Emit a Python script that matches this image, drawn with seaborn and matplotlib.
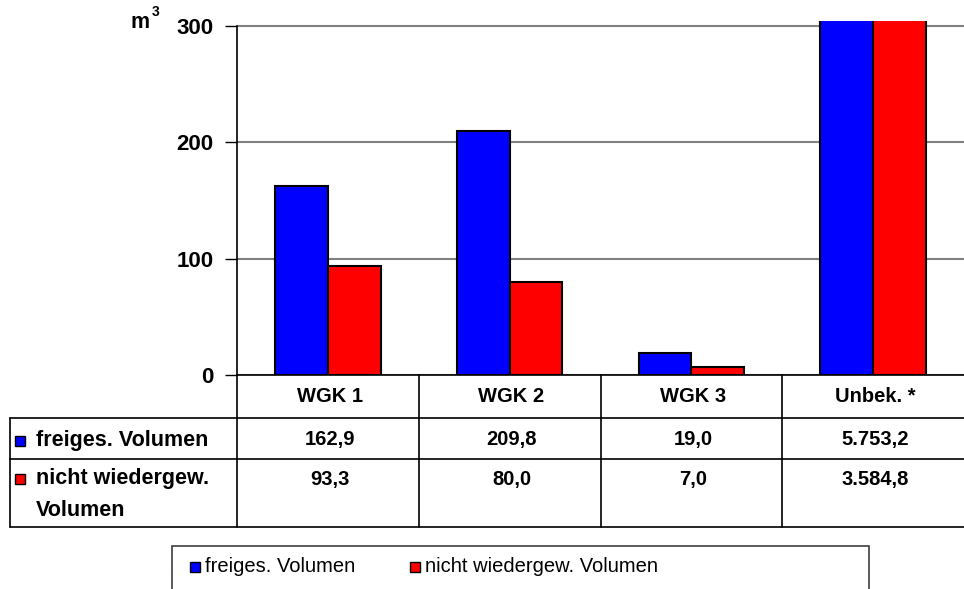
import matplotlib
matplotlib.use("Agg")
import matplotlib.pyplot as plt
import matplotlib.transforms as mtransforms
from matplotlib.patches import Rectangle
from matplotlib.lines import Line2D
import seaborn as sns
import pandas as pd

categories = ["WGK 1", "WGK 2", "WGK 3", "Unbek. *"]
series_names = ["freiges. Volumen", "nicht wiedergew. Volumen"]
row_labels = ["freiges. Volumen", "nicht wiedergew.\nVolumen"]
freiges = [162.9, 209.8, 19.0, 5753.2]
nicht = [93.3, 80.0, 7.0, 3584.8]
yticks = [0, 100, 200, 300]
colors = ["#0000FF", "#FF0000"]

df = pd.DataFrame({
    "cat": categories * 2,
    "series": [series_names[0]] * len(categories) + [series_names[1]] * len(categories),
    "value": freiges + nicht,
})

sns.set_theme(style="white")
plt.rcParams["font.family"] = ["Liberation Sans", "DejaVu Sans"]
plt.rcParams["text.color"] = "black"
plt.rcParams["ytick.labelcolor"] = "black"
plt.rcParams["ytick.color"] = "black"

W, H = 964, 589
fig = plt.figure(figsize=(W / 100, H / 100), dpi=100)


def fx(px):
    return px / W


def fy(py):
    return 1 - py / H


ax = fig.add_axes([fx(237), fy(375), fx(964) - fx(237), fy(21.4) - fy(375)])
sns.barplot(data=df, x="cat", y="value", hue="series", palette=colors,
            edgecolor="black", linewidth=1.5, width=0.58, saturation=1,
            errorbar=None, legend=False, ax=ax)
ax.set_ylim(0, 304)
ax.set_xlim(-0.5, len(categories) - 0.5)
ax.set_yticks(yticks)
ax.set_yticklabels([str(t) for t in yticks], fontsize=16, fontweight="bold", color="black")
ax.set_xticks([])
ax.set_xlabel("")
ax.set_ylabel("")
ax.yaxis.grid(True, color="#808080", linewidth=1.5)
ax.set_axisbelow(True)
for s in ["top", "right"]:
    ax.spines[s].set_visible(False)
ax.spines["left"].set_color("black")
ax.spines["left"].set_linewidth(1.2)
ax.spines["left"].set_bounds(0, 300)
ax.spines["bottom"].set_color("black")
ax.spines["bottom"].set_linewidth(1.2)
ax.tick_params(axis="y", direction="out", length=9, width=1, color="black", pad=8, left=True)

fig.text(fx(130), fy(22), "m", fontsize=15.5, fontweight="bold", ha="left", va="center")
fig.text(fx(152), fy(12), "3", fontsize=10, fontweight="bold", ha="left", va="center")

# data table
tr = mtransforms.blended_transform_factory(ax.transData, fig.transFigure)
line_kw = dict(color="black", linewidth=1.2, clip_on=False)
for ypx in [418, 459, 527]:
    fig.add_artist(Line2D([fx(10), 1], [fy(ypx), fy(ypx)], transform=fig.transFigure, **line_kw))
fig.add_artist(Line2D([fx(10), fx(10)], [fy(418), fy(527)], transform=fig.transFigure, **line_kw))
for xb in [i - 0.5 for i in range(len(categories))]:
    fig.add_artist(Line2D([xb, xb], [fy(375), fy(527)], transform=tr, **line_kw))


def de(v):
    s = f"{v:,.1f}"
    return s.replace(",", "X").replace(".", ",").replace("X", ".")


tsize = 14.5
for i, c in enumerate(categories):
    fig.text(i + 0.01, fy(397), c, transform=tr, ha="center", va="center", fontsize=tsize, fontweight="bold")
    fig.text(i + 0.01, fy(440), de(freiges[i]), transform=tr, ha="center", va="center", fontsize=tsize, fontweight="bold")
    fig.text(i + 0.01, fy(479), de(nicht[i]), transform=tr, ha="center", va="center", fontsize=tsize, fontweight="bold")

row_y = [441, 479]
for lbl, col, ypx in zip(row_labels, colors, row_y):
    fig.add_artist(Line2D([fx(20)], [fy(ypx)], marker="s", markersize=7.5, markerfacecolor=col,
                          markeredgecolor="black", markeredgewidth=1, linestyle="none",
                          transform=fig.transFigure))
    fig.text(fx(36), fy(ypx - 11), lbl, ha="left", va="top", fontsize=15.5, fontweight="bold",
             linespacing=1.7)

# legend box
fig.add_artist(Rectangle((fx(172), fy(600)), fx(869) - fx(172), fy(546) - fy(600),
                         transform=fig.transFigure, facecolor="white", edgecolor="#404040",
                         linewidth=1.2, clip_on=False))
leg_x = [195, 415]
for name, col, xpx in zip(series_names, colors, leg_x):
    fig.add_artist(Line2D([fx(xpx)], [fy(567)], marker="s", markersize=7.5, markerfacecolor=col,
                          markeredgecolor="black", markeredgewidth=1, linestyle="none",
                          transform=fig.transFigure))
    fig.text(fx(xpx + 10), fy(567), name, ha="left", va="center", fontsize=14.5)

fig.savefig("out.png", dpi=100)
